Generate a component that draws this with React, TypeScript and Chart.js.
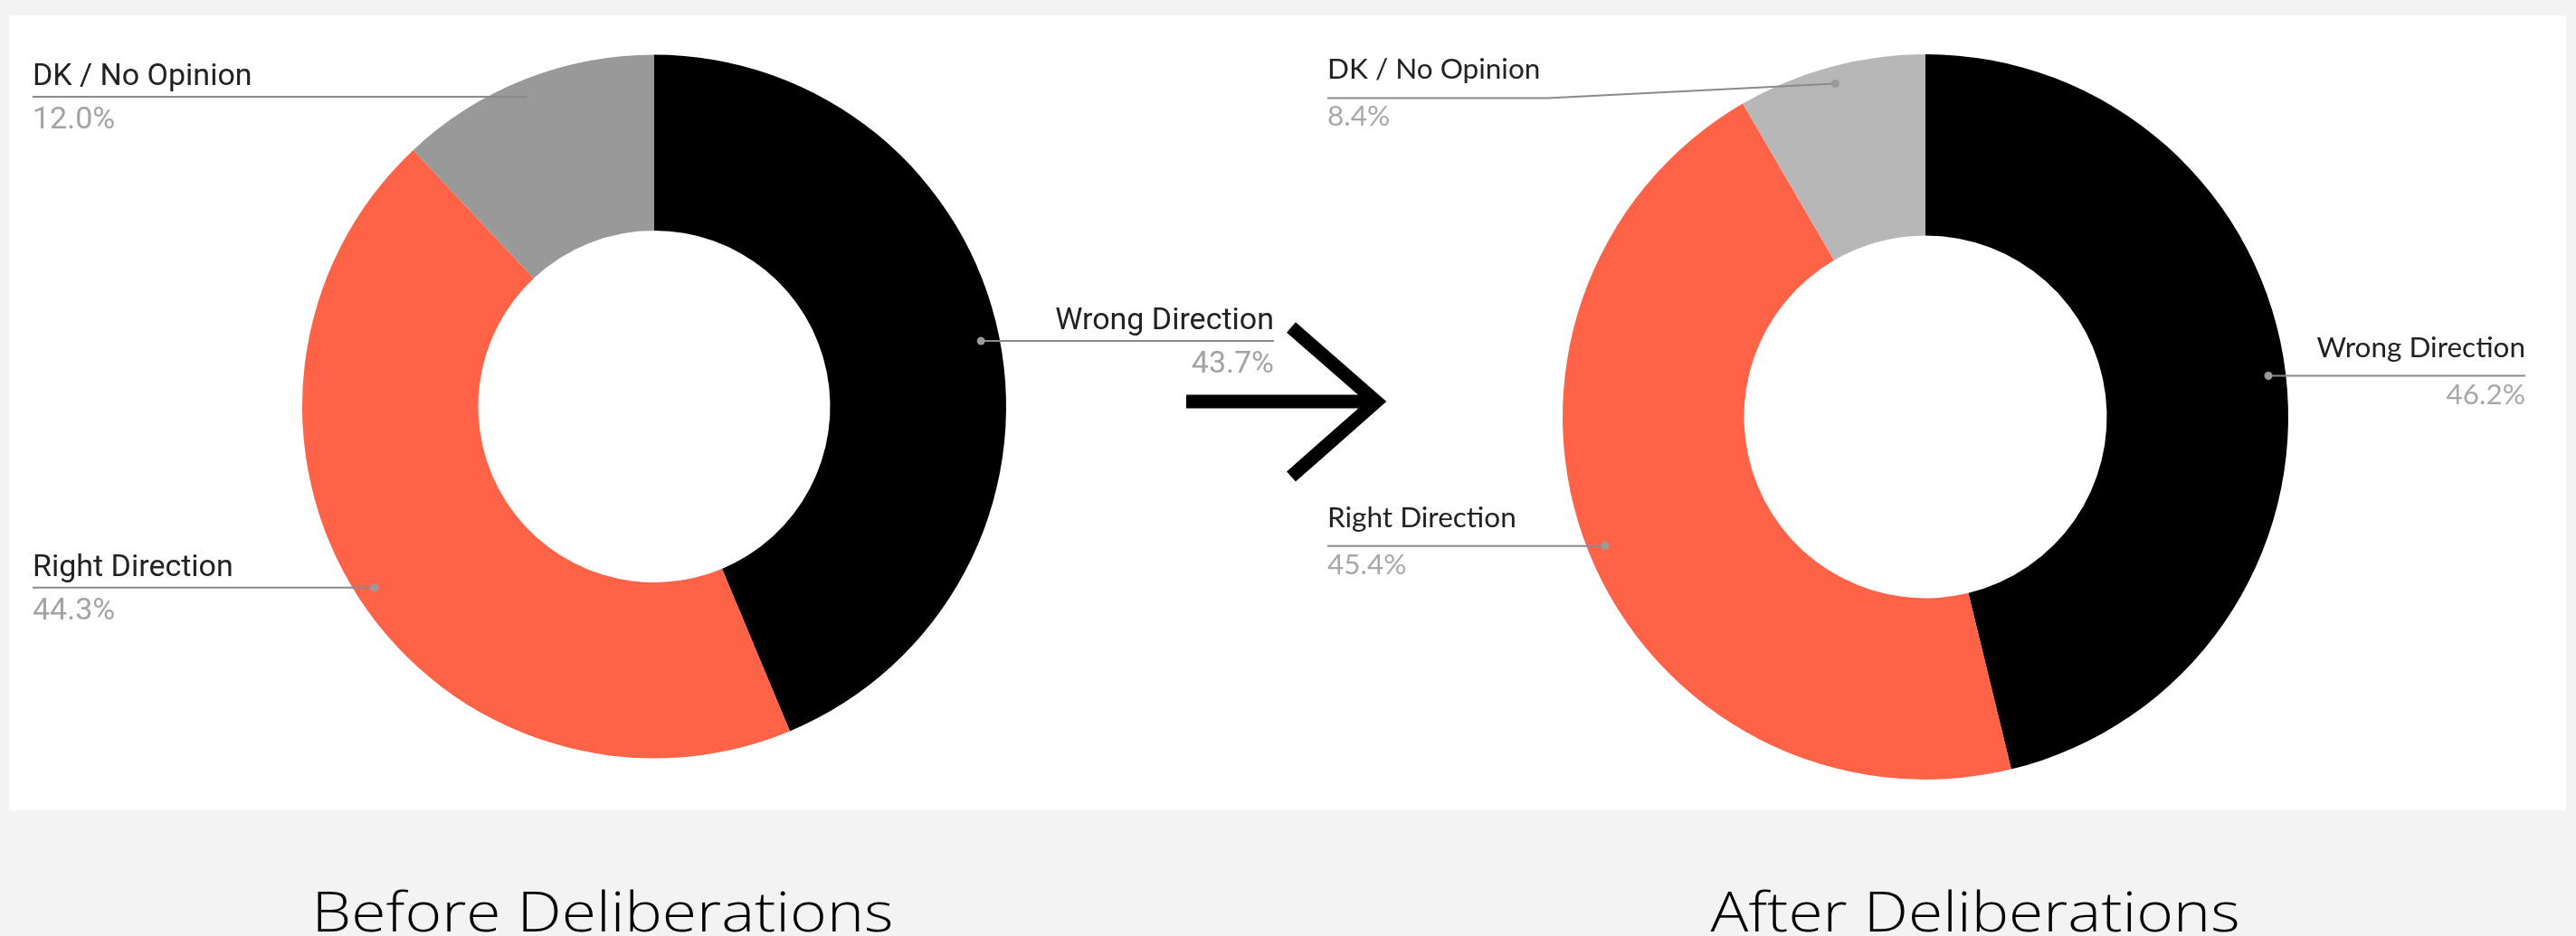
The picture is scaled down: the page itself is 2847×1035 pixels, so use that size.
import React, { useEffect, useRef } from "react";
import { Chart, registerables } from "chart.js";

Chart.register(...registerables);

// ---- Data ----
const CATEGORIES = ["Wrong Direction", "Right Direction", "DK / No Opinion"];
const BEFORE_VALUES = [43.7, 44.3, 12.0];
const AFTER_VALUES = [46.2, 45.4, 8.4];
const BEFORE_COLORS = ["#000000", "#ff6347", "#999999"];
const AFTER_COLORS = ["#000000", "#ff6347", "#b7b7b7"];
const TITLES = ["Before Deliberations", "After Deliberations"];

const leaderPlugin = {
  id: "leaders",
  afterDatasetsDraw(chart: any, _args: any, opts: any) {
    const ctx = chart.ctx;
    const meta = chart.getDatasetMeta(0);
    const values = chart.data.datasets[0].data as number[];
    const labels = chart.data.labels as string[];
    meta.data.forEach((arc: any, i: number) => {
      const p = arc.getProps(["x", "y", "startAngle", "endAngle", "outerRadius"], true);
      const mid = (p.startAngle + p.endAngle) / 2;
      const rd = p.outerRadius * opts.dotRatio;
      const dx = p.x + Math.cos(mid) * rd;
      const dy = p.y + Math.sin(mid) * rd;
      const right = Math.cos(mid) > 0;
      const shift = (opts.shifts && opts.shifts[i]) || 0;
      const ly = dy + shift;
      const edgeX = right ? opts.rightX : opts.leftX;
      ctx.save();
      ctx.strokeStyle = opts.lineColor;
      ctx.lineWidth = 2;
      ctx.beginPath();
      ctx.moveTo(edgeX, ly);
      if (shift) ctx.lineTo(opts.elbowX[i], ly);
      ctx.lineTo(dx, dy);
      ctx.stroke();
      ctx.fillStyle = opts.dotColor;
      ctx.beginPath();
      ctx.arc(dx, dy, 4.5, 0, Math.PI * 2);
      ctx.fill();
      ctx.textAlign = right ? "right" : "left";
      ctx.textBaseline = "alphabetic";
      ctx.font = opts.font;
      ctx.fillStyle = opts.nameColor;
      ctx.fillText(labels[i], edgeX, ly - opts.nameGap);
      ctx.fillStyle = opts.pctColor;
      ctx.fillText(values[i].toFixed(1) + "%", edgeX, ly + opts.pctGap);
      ctx.restore();
    });
  },
};

function Donut(props: {
  values: number[];
  colors: string[];
  left: number;
  padding: any;
  leaders: any;
}) {
  const ref = useRef<HTMLCanvasElement | null>(null);
  useEffect(() => {
    if (!ref.current) return;
    const chart = new Chart(ref.current, {
      type: "doughnut",
      data: {
        labels: CATEGORIES,
        datasets: [
          {
            data: props.values,
            backgroundColor: props.colors,
            borderWidth: 0,
          },
        ],
      },
      options: {
        responsive: false,
        maintainAspectRatio: false,
        animation: false,
        cutout: "50%",
        layout: { padding: props.padding },
        plugins: {
          legend: { display: false },
          tooltip: { enabled: false },
          leaders: props.leaders,
        } as any,
      },
      plugins: [leaderPlugin],
    });
    return () => chart.destroy();
  }, []);
  return (
    <canvas
      ref={ref}
      width={1413}
      height={879}
      style={{ position: "absolute", left: props.left, top: 17, width: 1413, height: 879 }}
    />
  );
}

export default function App() {
  const titleStyle: React.CSSProperties = {
    position: "absolute",
    top: 977,
    width: 1000,
    textAlign: "center",
    fontFamily: "'Open Sans', sans-serif",
    fontWeight: 300,
    fontSize: 60,
    lineHeight: "60px",
    color: "#000",
    whiteSpace: "nowrap",
    transform: "scaleX(1.16)",
    transformOrigin: "50% 50%",
  };
  return (
    <div
      style={{
        position: "absolute",
        left: 0,
        top: 0,
        width: 2847,
        height: 1035,
        background: "#f3f3f3",
        overflow: "hidden",
      }}
    >
      <div
        style={{ position: "absolute", left: 10, top: 17, width: 2826, height: 879, background: "#ffffff" }}
      />
      <Donut
        values={BEFORE_VALUES}
        colors={BEFORE_COLORS}
        left={10}
        padding={{ top: 43.5, bottom: 57.5, left: 324, right: 311 }}
        leaders={{
          dotRatio: 0.947,
          leftX: 26,
          rightX: 1398,
          lineColor: "#8a8a8a",
          dotColor: "#9a9a9a",
          font: "34px Roboto",
          nameColor: "#222222",
          pctColor: "#a3a3a3",
          nameGap: 13,
          pctGap: 35,
          shifts: [0, 0, 0],
          elbowX: [0, 0, 0],
        }}
      />
      <Donut
        values={AFTER_VALUES}
        colors={AFTER_COLORS}
        left={1423}
        padding={{ top: 43, bottom: 34, left: 304, right: 307 }}
        leaders={{
          dotRatio: 0.952,
          leftX: 44,
          rightX: 1368,
          lineColor: "#8a8a8a",
          dotColor: "#9a9a9a",
          font: "31.5px Lato",
          nameColor: "#222222",
          pctColor: "#a8a8a8",
          nameGap: 21,
          pctGap: 31,
          shifts: [0, 0, 16],
          elbowX: [0, 0, 287],
        }}
      />
      <svg
        width={2847}
        height={1035}
        style={{ position: "absolute", left: 0, top: 0, pointerEvents: "none" }}
      >
        <line x1={1311} y1={444} x2={1522} y2={444} stroke="#000" strokeWidth={15} />
        <polyline
          points="1427,362 1521,444 1427,527"
          fill="none"
          stroke="#000"
          strokeWidth={15}
          strokeLinejoin="miter"
          strokeMiterlimit={10}
        />
      </svg>
      <div style={{ ...titleStyle, left: 666 - 500 }}>{TITLES[0]}</div>
      <div style={{ ...titleStyle, left: 2183 - 500 }}>{TITLES[1]}</div>
    </div>
  );
}
